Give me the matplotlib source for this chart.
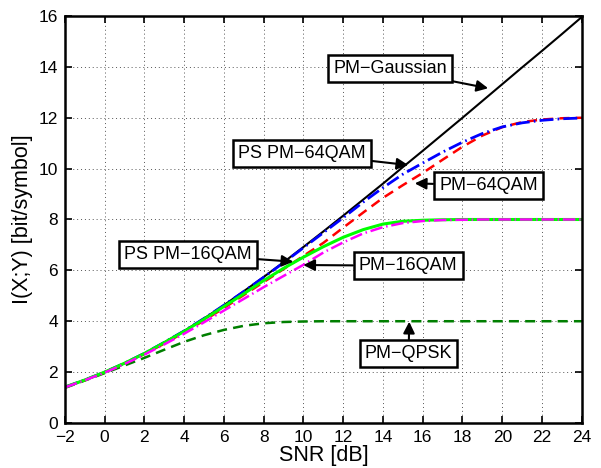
import matplotlib
matplotlib.use("Agg")
import matplotlib.pyplot as plt

snr_db = [-2, -1, 0, 1, 2, 3, 4, 5, 6, 7, 8, 9, 10, 11, 12, 13, 14, 15, 16, 17, 18, 19, 20, 21, 22, 23, 24]

pm_gaussian = [1.41, 1.69, 2.00, 2.35, 2.74, 3.17, 3.62, 4.11, 4.63, 5.18, 5.74, 6.32, 6.92, 7.53,
               8.15, 8.78, 9.41, 10.06, 10.70, 11.35, 12.00, 12.66, 13.32, 13.98, 14.63, 15.29, 15.96]
ps_pm_64qam = [1.41, 1.69, 2.00, 2.35, 2.74, 3.17, 3.62, 4.11, 4.63, 5.17, 5.73, 6.30, 6.89, 7.48,
               8.07, 8.68, 9.25, 9.78, 10.22, 10.65, 11.04, 11.38, 11.64, 11.80, 11.90, 11.96, 11.99]
pm_64qam = [1.40, 1.68, 1.99, 2.33, 2.71, 3.12, 3.56, 4.03, 4.52, 5.03, 5.54, 6.05, 6.57, 7.08,
            7.68, 8.27, 8.85, 9.35, 9.83, 10.35, 10.86, 11.30, 11.63, 11.83, 11.93, 11.98, 12.00]
ps_pm_16qam = [1.41, 1.69, 2.00, 2.35, 2.73, 3.16, 3.60, 4.08, 4.58, 5.08, 5.60, 6.08, 6.52, 6.93,
               7.30, 7.60, 7.82, 7.93, 7.97, 7.99, 8.00, 8.00, 8.00, 8.00, 8.00, 8.00, 8.00]
pm_16qam = [1.40, 1.68, 1.98, 2.32, 2.69, 3.09, 3.51, 3.96, 4.42, 4.88, 5.34, 5.78, 6.22, 6.70,
            7.10, 7.45, 7.70, 7.86, 7.94, 7.98, 7.99, 8.00, 8.00, 8.00, 8.00, 8.00, 8.00]
pm_qpsk = [1.38, 1.67, 1.96, 2.26, 2.56, 2.88, 3.19, 3.45, 3.66, 3.82, 3.92, 3.97, 3.99, 4.00,
           4.00, 4.00, 4.00, 4.00, 4.00, 4.00, 4.00, 4.00, 4.00, 4.00, 4.00, 4.00, 4.00]

x_ticks = [-2, 0, 2, 4, 6, 8, 10, 12, 14, 16, 18, 20, 22, 24]
y_ticks = [0, 2, 4, 6, 8, 10, 12, 14, 16]

plt.rcParams['font.family'] = ['Liberation Sans', 'DejaVu Sans']

fig = plt.figure(figsize=(6.01, 4.68), dpi=100)
ax = fig.add_axes([0.108, 0.0962, 0.860, 0.8696])

ax.plot(snr_db, pm_gaussian, color='black', lw=1.5, ls='-')
ax.plot(snr_db, pm_qpsk, color='#007f00', lw=1.8, ls=(0, (4, 2.5)))
ax.plot(snr_db, pm_64qam, color='red', lw=1.8, ls=(0, (4, 2.5)))
ax.plot(snr_db, ps_pm_64qam, color='blue', lw=2.0, ls=(0, (5, 1.5, 0.6, 1.5)))
ax.plot(snr_db, ps_pm_16qam, color='#00ff00', lw=2.2, ls='-')
ax.plot(snr_db, pm_16qam, color='magenta', lw=1.8, ls=(0, (5, 1.5, 0.6, 1.5)))

ax.set_xlim(-2, 24)
ax.set_ylim(0, 16)
ax.set_xticks(x_ticks)
ax.set_yticks(y_ticks)
ax.set_xticklabels([str(v).replace('-', '\u2212') for v in x_ticks])
ax.grid(True, color='#555555', ls=(0, (1, 3)), lw=0.7)
ax.tick_params(direction='in', length=5, width=1.2, labelsize=12.5, top=True, right=True, pad=5)
for s in ax.spines.values():
    s.set_linewidth(1.8)

ax.set_xlabel('SNR [dB]', fontsize=15.5, labelpad=0)
ax.set_ylabel('I(X;Y) [bit/symbol]', fontsize=15.5, labelpad=4)

box = dict(boxstyle='square,pad=0.28', fc='white', ec='black', lw=1.8)
arrow = dict(arrowstyle='-|>', color='black', lw=1.5, mutation_scale=17, shrinkA=0, shrinkB=0)

annots = [
    ('PM\u2212Gaussian', (19.29, 13.16), (14.35, 13.92)),
    ('PS PM\u221264QAM', (15.27, 10.14), (9.92, 10.61)),
    ('PM\u221264QAM', (15.6, 9.42), (19.30, 9.34)),
    ('PS PM\u221216QAM', (9.49, 6.34), (4.19, 6.64)),
    ('PM\u221216QAM', (9.99, 6.21), (15.27, 6.18)),
    ('PM\u2212QPSK', (15.32, 3.98), (15.29, 2.72)),
]
for text, tip, pos in annots:
    ax.annotate(text, xy=tip, xytext=pos, fontsize=13, ha='center', va='center',
                bbox=box, arrowprops=arrow, zorder=5)

fig.savefig('out.png', dpi=100)
